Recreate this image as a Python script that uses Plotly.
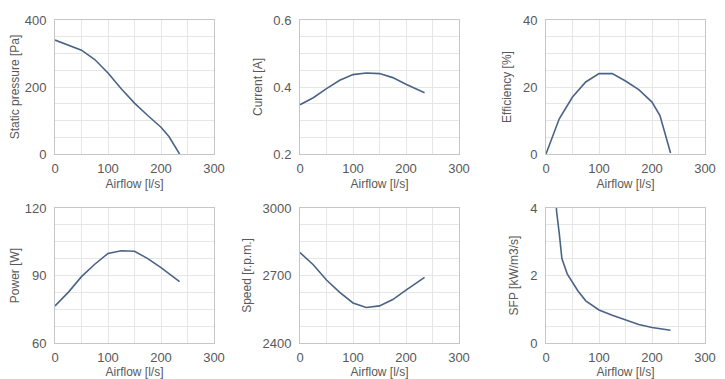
import plotly.graph_objects as go

airflow = [0, 25, 50, 75, 100, 125, 150, 175, 200, 215, 235]
static_pressure = [340, 325, 310, 282, 242, 195, 152, 115, 80, 52, 0]
current = [0.347, 0.368, 0.395, 0.420, 0.437, 0.442, 0.440, 0.428, 0.408, 0.398, 0.383]
efficiency = [0, 10.5, 17, 21.5, 24, 24, 21.8, 19.2, 15.5, 11.5, 0.3]
power = [76.5, 82.5, 89.5, 95, 99.8, 101, 100.8, 97.5, 93.5, 91, 87.3]
speed = [2802, 2748, 2680, 2625, 2578, 2558, 2565, 2593, 2635, 2660, 2692]
sfp_airflow = [15, 20, 25, 30, 40, 50, 60, 75, 100, 125, 150, 175, 200, 215, 235]
sfp = [5.2, 3.9, 3.25, 2.5, 2.05, 1.8, 1.55, 1.25, 0.98, 0.82, 0.68, 0.55, 0.46, 0.42, 0.38]

x_ticks = [0, 100, 200, 300]
panels = [
    ("Static pressure [Pa]", airflow, static_pressure, [0, 400], [0, 200, 400], 50, ["0", "200", "400"]),
    ("Current [A]", airflow, current, [0.2, 0.6], [0.2, 0.4, 0.6], 0.05, ["0.2", "0.4", "0.6"]),
    ("Efficiency [%]", airflow, efficiency, [0, 40], [0, 20, 40], 5, ["0", "20", "40"]),
    ("Power [W]", airflow, power, [60, 120], [60, 90, 120], 7.5, ["60", "90", "120"]),
    ("Speed [r.p.m.]", airflow, speed, [2400, 3000], [2400, 2700, 3000], 75, ["2400", "2700", "3000"]),
    ("SFP [kW/m3/s]", sfp_airflow, sfp, [0, 4], [0, 2, 4], 0.5, ["0", "2", "4"]),
]

# page offset of the figure (default body margin)
OFF = 8
W, H = 725 - OFF, 379 - OFF
x_px = [(55, 214), (300, 459), (546, 705)]
y_px = [(20, 154), (208, 343)]

LINE = "#4a6486"
GRID = "#e6e6e6"
FRAME = "#c6c6c6"
TXT = "#595959"
FONT = "Liberation Sans, Arial"

fig = go.Figure()
layout = {}
for i, (title, xs, ys, yr, yt, ydt, ytt) in enumerate(panels):
    r, c = divmod(i, 3)
    n = "" if i == 0 else str(i + 1)
    fig.add_trace(go.Scatter(x=xs, y=ys, mode="lines", line=dict(color=LINE, width=1.6),
                             xaxis="x" + n, yaxis="y" + n, showlegend=False, cliponaxis=True))
    xd = [(x_px[c][0] - OFF) / W, (x_px[c][1] - OFF) / W]
    yd = [1 - (y_px[r][1] - OFF) / H, 1 - (y_px[r][0] - OFF) / H]
    layout["xaxis" + n] = dict(
        domain=xd, anchor="y" + n, range=[0, 300], tickvals=x_ticks, automargin=False,
        showgrid=True, gridcolor=GRID, gridwidth=1,
        minor=dict(dtick=50, tick0=0, showgrid=True, gridcolor=GRID, gridwidth=1),
        showline=True, linecolor=FRAME, linewidth=1, mirror=True, zeroline=False,
        ticks="", ticklen=0, ticklabelstandoff=2, tickfont=dict(size=13, color=TXT, family=FONT),
        title=dict(text="Airflow [l/s]", font=dict(size=12, color=TXT, family=FONT), standoff=5),
        fixedrange=True,
    )
    layout["yaxis" + n] = dict(
        domain=yd, anchor="x" + n, range=yr, tickvals=yt, ticktext=ytt, automargin=False,
        showgrid=True, gridcolor=GRID, gridwidth=1,
        minor=dict(dtick=ydt, tick0=yr[0], showgrid=True, gridcolor=GRID, gridwidth=1),
        showline=True, linecolor=FRAME, linewidth=1, mirror=True, zeroline=False,
        ticks="", ticklen=0, ticklabelstandoff=5, tickfont=dict(size=13, color=TXT, family=FONT),
        title=dict(text=title, font=dict(size=12, color=TXT, family=FONT), standoff=8),
        fixedrange=True,
    )

fig.update_layout(width=W, height=H, margin=dict(l=0, r=0, t=0, b=0),
                  paper_bgcolor="white", plot_bgcolor="white", **layout)
fig.write_html("out.html")
